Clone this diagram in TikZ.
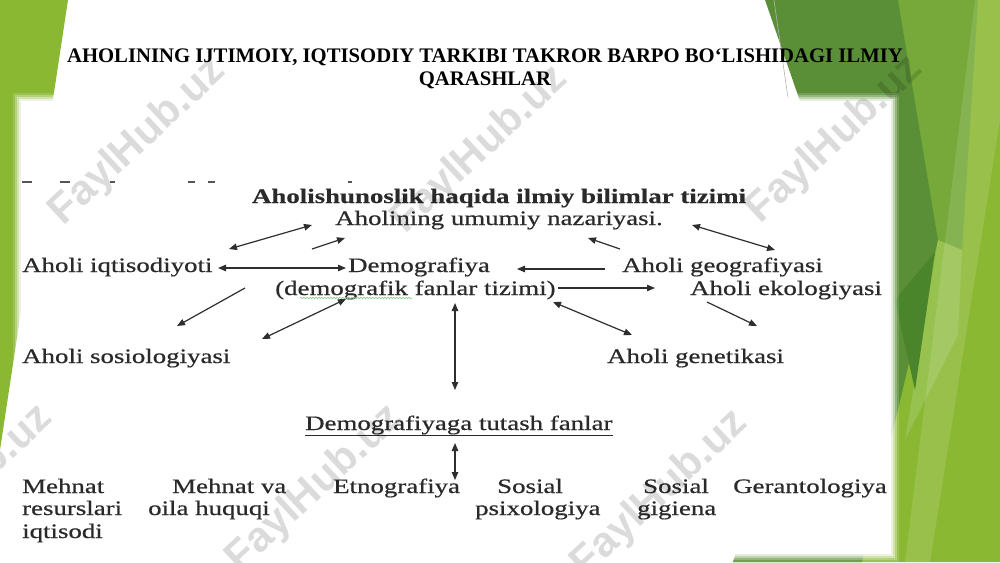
\documentclass[tikz,border=0pt]{standalone}
\usepackage{fontspec}
\setmainfont{Liberation Serif}
\newfontfamily\dfont[FakeStretch=1.31,FakeBold=0.6]{Liberation Serif}
\newfontfamily\dbfont[FakeStretch=1.31,FakeBold=0.4]{Liberation Serif Bold}
\newfontfamily\wmfont{Liberation Sans}
\usetikzlibrary{arrows.meta,decorations.pathmorphing}
\definecolor{limeg}{HTML}{8AB833}
\definecolor{darkg}{HTML}{5A8F37}
\definecolor{midg}{HTML}{76A93A}
\definecolor{lightg}{HTML}{A2C963}
\definecolor{deepg}{HTML}{4A852B}
\definecolor{txtc}{HTML}{2A2A2A}
\definecolor{arrc}{HTML}{2E2E2E}
\definecolor{squig}{HTML}{8CC98C}
\begin{document}
\begin{tikzpicture}[x=1pt,y=-1pt,
  txt/.style={inner sep=0pt,text=txtc,font=\dfont\fontsize{20.5}{24}\selectfont},
  btxt/.style={inner sep=0pt,text=txtc,font=\dbfont\fontsize{20.5}{24}\selectfont},
  ttl/.style={inner sep=0pt,text=black,font=\bfseries\fontsize{20.7}{24}\selectfont},
  arr/.style={draw=arrc,line width=1.2pt,-{Triangle[length=8pt,width=6.5pt]}},
  darr/.style={draw=arrc,line width=1.2pt,{Triangle[length=8pt,width=6.5pt]}-{Triangle[length=8pt,width=6.5pt]}},
  wm/.style={text=black,opacity=0.14,font=\wmfont\bfseries\fontsize{42}{42}\selectfont,rotate=43,inner sep=0pt}
]
\useasboundingbox (0,0) rectangle (1000,562);
\fill[white] (0,0) rectangle (1000,562);

% ---- slide background facets ----
\fill[limeg] (0,0) -- (68,0) -- (0,450) -- cycle;
\fill[limeg] (898,0) -- (1000,0) -- (1000,562) -- (733,562) -- cycle;
\fill[midg] (898,0) -- (978,0) -- (962,250) -- (938,240) -- cycle;
\fill[darkg] (765,0) -- (898,0) -- (938,240) -- (862,562) -- (733,562) -- (848,240) -- cycle;
\fill[lightg,opacity=0.6] (938,240) -- (962,250) -- (958,335) -- (905,440) -- cycle;
\fill[deepg] (895,300) -- (935,252) -- (915,390) -- cycle;
\fill[white,opacity=0.12] (975,0) -- (1000,0) -- (1000,120) -- (930,562) -- (905,562) -- cycle;
\draw[gray!60,line width=0.6pt] (774,0) -- (788,98);

% ---- picture with soft edge ----
\foreach \d/\o in {7/0.15,5/0.25,3/0.4,1/0.6}
  \fill[white,opacity=\o] (20-\d,100-\d) rectangle (892+\d,555+\d);
\fill[white] (21,101) rectangle (891,554);

% ---- title ----
\node[ttl,anchor=base] (t1) at (485,62) {AHOLINING IJTIMOIY, IQTISODIY TARKIBI TAKROR BARPO BO‘LISHIDAGI ILMIY};
\node[ttl,anchor=base] (t2) at (485,85) {QARASHLAR};

% ---- cut-off marks of a previous line ----
\foreach \a/\b in {22/32,60/70,110/115,188/195,208/215,348/352}
  \draw[txtc!80,line width=1.6pt] (\a,182) -- (\b,182);

% ---- diagram texts ----
\node[btxt,anchor=base] (head) at (499,203) {Aholishunoslik haqida ilmiy bilimlar tizimi};
\node[txt,anchor=base] (umum) at (499,225) {Aholining umumiy nazariyasi.};
\node[txt,anchor=base west] (iqt) at (22,272) {Aholi iqtisodiyoti};
\node[txt,anchor=base west] (demo) at (348,272) {Demografiya};
\node[txt,anchor=base west] (demof) at (275,295) {(demografik fanlar tizimi)};
\node[txt,anchor=base west] (geo) at (622,272) {Aholi geografiyasi};
\node[txt,anchor=base west] (eko) at (690,295) {Aholi ekologiyasi};
\node[txt,anchor=base west] (sos) at (22,363) {Aholi sosiologiyasi};
\node[txt,anchor=base west] (gen) at (607,363) {Aholi genetikasi};
\node[txt,anchor=base west] (tut) at (305,430) {Demografiyaga tutash fanlar};
\draw[txtc,line width=0.9pt] (tut.base west) ++(0,5) coordinate (u1) -- (tut.base east |- u1);

\node[txt,anchor=base west] (m1) at (22,493) {Mehnat};
\node[txt,anchor=base west] (m2) at (22,515) {resurslari};
\node[txt,anchor=base west] (m3) at (22,538) {iqtisodi};
\node[txt,anchor=base west] (mv1) at (172,493) {Mehnat va};
\node[txt,anchor=base west] (mv2) at (148,515) {oila huquqi};
\node[txt,anchor=base west] (etn) at (333,493) {Etnografiya};
\node[txt,anchor=base west] (sp1) at (497,493) {Sosial};
\node[txt,anchor=base west] (sp2) at (475,515) {psixologiya};
\node[txt,anchor=base west] (sg1) at (643,493) {Sosial};
\node[txt,anchor=base west] (sg2) at (637,515) {gigiena};
\node[txt,anchor=base west] (ger) at (733,493) {Gerantologiya};

% wavy spell-check underline
\coordinate (sq1) at (300,298);
\coordinate (sq2) at (412,298);
\draw[squig,line width=0.6pt,decorate,decoration={snake,amplitude=0.8pt,segment length=3pt}] (sq1) -- (sq2);

% ---- arrow end points ----
\coordinate (a1s) at (229,249); \coordinate (a1e) at (312,225);
\coordinate (a2s) at (312,249); \coordinate (a2e) at (345,238);
\coordinate (a3s) at (218,268); \coordinate (a3e) at (346,268);
\coordinate (a4s) at (245,288); \coordinate (a4e) at (177,326);
\coordinate (a5s) at (262,339); \coordinate (a5e) at (346,299);
\coordinate (a6s) at (455,303); \coordinate (a6e) at (455,390);
\coordinate (a7s) at (605,269); \coordinate (a7e) at (517,269);
\coordinate (a8s) at (620,249); \coordinate (a8e) at (588,238);
\coordinate (a9s) at (692,225); \coordinate (a9e) at (775,250);
\coordinate (a10s) at (558,288); \coordinate (a10e) at (655,288);
\coordinate (a11s) at (553,302); \coordinate (a11e) at (632,335);
\coordinate (a12s) at (707,302); \coordinate (a12e) at (757,326);
\coordinate (a13s) at (455,443); \coordinate (a13e) at (455,480);

\draw[darr] (a1s) -- (a1e);
\draw[arr] (a2s) -- (a2e);
\draw[darr] (a3s) -- (a3e);
\draw[arr] (a4s) -- (a4e);
\draw[darr] (a5s) -- (a5e);
\draw[darr] (a6s) -- (a6e);
\draw[arr] (a7s) -- (a7e);
\draw[arr] (a8s) -- (a8e);
\draw[darr] (a9s) -- (a9e);
\draw[arr] (a10s) -- (a10e);
\draw[darr] (a11s) -- (a11e);
\draw[arr] (a12s) -- (a12e);
\draw[darr] (a13s) -- (a13e);

% ---- watermarks ----
\node[wm] (w1) at (138,142) {FaylHub.uz};
\node[wm] (w2) at (480,150) {FaylHub.uz};
\node[wm] (w3) at (835,140) {FaylHub.uz};
\node[wm] (w4) at (-35,489) {FaylHub.uz};
\node[wm] (w5) at (315,489) {FaylHub.uz};
\node[wm] (w6) at (660,494) {FaylHub.uz};
\end{tikzpicture}
\end{document}
